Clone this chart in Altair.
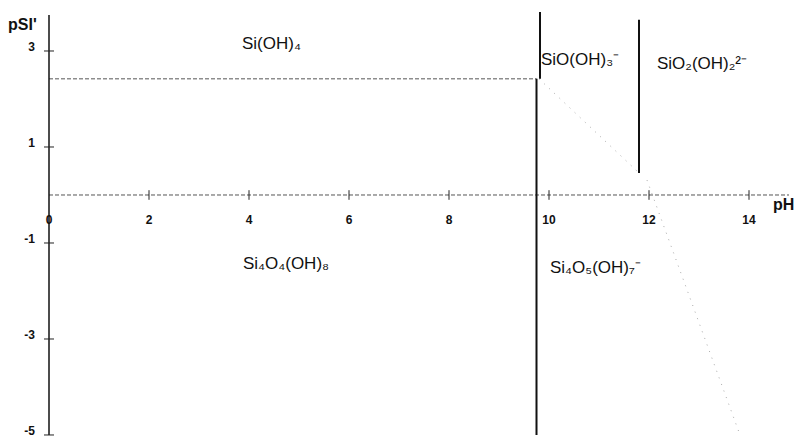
import altair as alt
import pandas as pd

# ---- data ----
# y axis (pSi') and x axis (pH) extents
y_axis_x = [0.0]
y_axis_lo = [-5.0]
y_axis_hi = [3.75]
x_axis_y = [0.0]
x_axis_lo = [0.0]
x_axis_hi = [14.8]

# boundary lines of the predominance diagram
bound_x1 = [9.75, 9.82, 11.8]
bound_x2 = [9.75, 9.82, 11.8]
bound_y1 = [-5.0, 2.42, 0.46]
bound_y2 = [2.42, 3.81, 3.65]

# dashed horizontal boundary (solubility)
dash_x1 = [0.0]
dash_x2 = [9.75]
dash_y = [2.42]

# faint dotted diagonals
diag_x1 = [9.8, 11.96]
diag_x2 = [11.8, 13.82]
diag_y1 = [2.42, 0.31]
diag_y2 = [0.46, -5.0]

# ticks and tick labels
x_tick_vals = [2, 4, 6, 8, 10, 12, 14]
x_label_vals = [0, 2, 4, 6, 8, 10, 12, 14]
x_label_txt = ["0", "2", "4", "6", "8", "10", "12", "14"]
y_tick_vals = [3, 1, -1, -3, -5]
y_label_txt = ["3", "1", "-1", "-3", "-5"]

# species labels
species = ["Si(OH)₄", "SiO(OH)₃⁻", "SiO₂(OH)₂²⁻", "Si₄O₄(OH)₈", "Si₄O₅(OH)₇⁻"]
species_x = [3.86, 9.84, 12.16, 3.88, 10.02]
species_y = [3.15, 2.81, 2.73, -1.44, -1.52]

# axis titles
title_txt = ["pSI'", "pH"]
title_x = [-0.82, 14.48]
title_y = [3.54, -0.21]

XS = alt.Scale(domain=[-0.98, 15.04], nice=False, zero=False)
YS = alt.Scale(domain=[-5.042, 4.0625], nice=False, zero=False)
FONT = "Liberation Sans, Arial, sans-serif"


def seg(df, **kw):
    return alt.Chart(df).mark_rule(**kw).encode(
        x=alt.X("x1:Q", scale=XS, axis=None),
        x2="x2:Q",
        y=alt.Y("y1:Q", scale=YS, axis=None),
        y2="y2:Q",
    )


def txt(df, **kw):
    return alt.Chart(df).mark_text(font=FONT, color="#111111", **kw).encode(
        x=alt.X("x:Q", scale=XS, axis=None),
        y=alt.Y("y:Q", scale=YS, axis=None),
        text="t:N",
    )


yaxis_df = pd.DataFrame({"x1": y_axis_x, "x2": y_axis_x, "y1": y_axis_lo, "y2": y_axis_hi})
xaxis_df = pd.DataFrame({"x1": x_axis_lo, "x2": x_axis_hi, "y1": x_axis_y, "y2": x_axis_y})
bound_df = pd.DataFrame({"x1": bound_x1, "x2": bound_x2, "y1": bound_y1, "y2": bound_y2})
dash_df = pd.DataFrame({"x1": dash_x1, "x2": dash_x2, "y1": dash_y, "y2": dash_y})
diag_df = pd.DataFrame({"x1": diag_x1, "x2": diag_x2, "y1": diag_y1, "y2": diag_y2})

xt_df = pd.DataFrame({"x1": x_tick_vals, "x2": x_tick_vals,
                      "y1": [-0.1] * len(x_tick_vals), "y2": [0.1] * len(x_tick_vals)})
yt_df = pd.DataFrame({"x1": [-0.1] * len(y_tick_vals), "x2": [0.1] * len(y_tick_vals),
                      "y1": y_tick_vals, "y2": y_tick_vals})

xl_df = pd.DataFrame({"x": x_label_vals, "y": [-0.52] * len(x_label_vals), "t": x_label_txt})
yl_df = pd.DataFrame({"x": [-0.2] * len(y_tick_vals), "y": y_tick_vals, "t": y_label_txt})
sp_df = pd.DataFrame({"x": species_x, "y": species_y, "t": species})
title_df = pd.DataFrame({"x": title_x, "y": title_y, "t": title_txt})

layers = [
    seg(dash_df, color="#555555", strokeWidth=1, strokeDash=[4, 2]),
    seg(xaxis_df, color="#555555", strokeWidth=1, strokeDash=[4, 2]),
    seg(diag_df, color="#aaaaaa", strokeWidth=1, strokeDash=[1, 6]),
    seg(yaxis_df, color="#111111", strokeWidth=1.5),
    seg(bound_df, color="#111111", strokeWidth=2),
    seg(xt_df, color="#222222", strokeWidth=1),
    seg(yt_df, color="#222222", strokeWidth=1),
    txt(xl_df, fontSize=12, fontWeight="bold", align="center", baseline="middle"),
    txt(yl_df, fontSize=12, fontWeight="bold", align="right", baseline="middle", dx=-4, dy=-4),
    txt(sp_df, fontSize=17, align="left", baseline="middle"),
    txt(title_df, fontSize=16, fontWeight="bold", align="left", baseline="middle"),
]

chart = alt.layer(*layers).properties(
    width=801, height=437, padding=0, autosize=alt.AutoSizeParams(type="none"),
    background="white",
).configure_view(stroke=None)

chart.save("out.html", embed_options={"renderer": "svg", "actions": False})
